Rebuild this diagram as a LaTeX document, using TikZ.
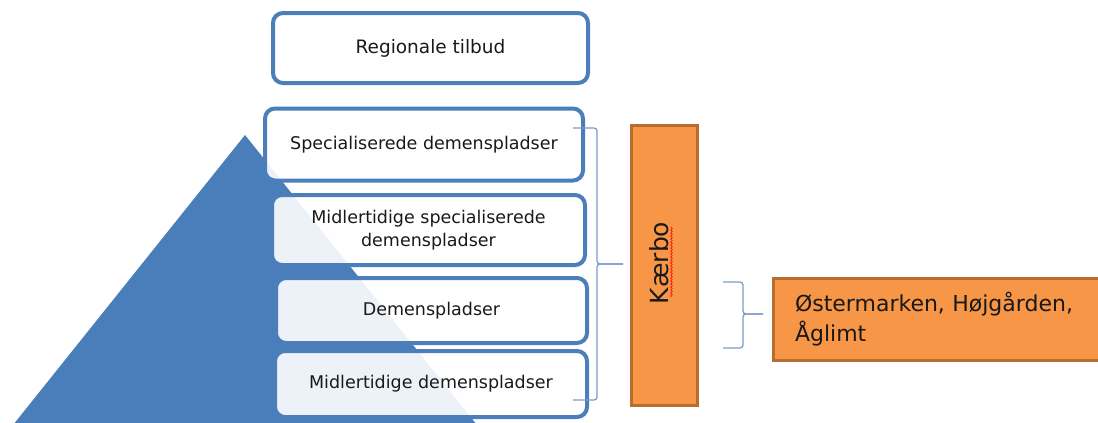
\documentclass[tikz,border=0pt]{standalone}
\usepackage{fontspec}
\setmainfont{DejaVu Sans}
\usetikzlibrary{decorations.pathmorphing}
\definecolor{tri}{RGB}{74,126,187}
\definecolor{boxline}{RGB}{76,126,187}
\definecolor{bracecol}{RGB}{125,155,200}
\definecolor{orfill}{RGB}{247,150,70}
\definecolor{orline}{RGB}{182,109,48}
\begin{document}
\begin{tikzpicture}[x=1pt,y=-1pt,
 lvl/.style={draw=boxline, line width=4pt, rounded corners=10pt, fill=white, fill opacity=0.9, text opacity=1, font=\fontsize{17.5}{23}\selectfont, align=center, inner sep=0pt, text=black!90},
 orbox/.style={draw=orline, line width=3pt, fill=orfill, inner sep=0pt, text=black!90},
 bracel/.style={draw=bracecol, line width=1.3pt, rounded corners=3pt}]
\useasboundingbox (0,0) rectangle (1098,423);
\clip (0,0) rectangle (1098,423);
% pyramid
\fill[tri] (245,135) -- (1,440) -- (489,440) -- cycle;
% level boxes
\node[lvl, minimum width=315pt, minimum height=70pt, font=\fontsize{18.5}{23}\selectfont] (reg) at (430.5,48) {Regionale tilbud};
\node[lvl, minimum width=318pt, minimum height=72pt] (spec) at (424,144.5) {Specialiserede demenspladser};
\node[lvl, minimum width=313pt, minimum height=70pt] (midspec) at (428.5,230) {Midlertidige specialiserede\\demenspladser};
\node[lvl, minimum width=311pt, minimum height=65pt] (dem) at (431.5,310.5) {Demenspladser};
\node[lvl, minimum width=312pt, minimum height=66pt] (middem) at (431,384) {Midlertidige demenspladser};
% Kaerbo
\node[orbox, minimum width=66pt, minimum height=280pt] (kaer) at (664,265) {};
\node[rotate=90, inner sep=0pt, text=black!90, font=\fontsize{25}{30}\selectfont] (kaertext) at (659,263) {Kærbo};
\draw[red, line width=0.6pt, decorate, decoration={snake, amplitude=0.8pt, segment length=3pt}] (671.5,297) -- (671.5,227);
% Ostermarken
\node[orbox, minimum height=82pt, text width=290pt, inner xsep=22pt, align=left, font=\fontsize{22}{30}\selectfont] (oster) at (940,319) {Østermarken, Højgården,\\Åglimt};
% braces
\coordinate (b1top) at (573,128);
\coordinate (b1bot) at (573,400);
\coordinate (b1tip) at (623,264);
\draw[bracel] (b1top) -- (597,128) -- (597,264) -- (b1tip);
\draw[bracel] (b1tip) -- (597,264) -- (597,400) -- (b1bot);
\coordinate (b2top) at (723,282);
\coordinate (b2bot) at (723,348);
\coordinate (b2tip) at (763,314);
\draw[bracel] (b2top) -- (743,282) -- (743,314) -- (b2tip);
\draw[bracel] (b2tip) -- (743,314) -- (743,348) -- (b2bot);
\end{tikzpicture}
\end{document}
